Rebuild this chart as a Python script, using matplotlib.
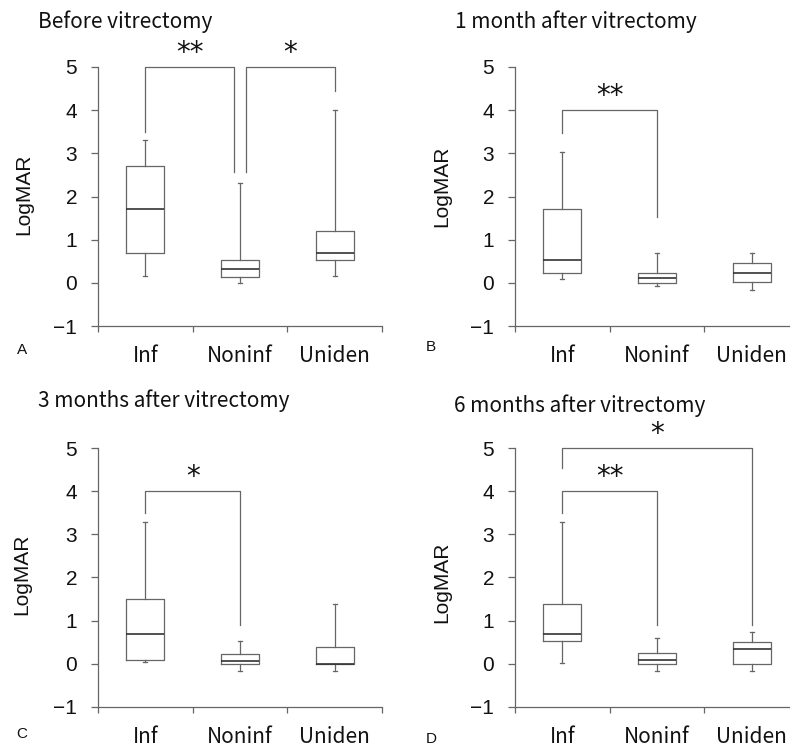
"""LogMAR box plots by group, before and after vitrectomy (4 panels)."""

import matplotlib
matplotlib.use('Agg')

import matplotlib.pyplot as plt

# ── Data ───────────────────────────────────────────────────────────────────────
categories = ['Inf', 'Noninf', 'Uniden']

# five-number summary per group: low whisker, Q1, median, Q3, high whisker
before_vit = [[0.16, 0.70, 1.70, 2.70, 3.30],
              [0.00, 0.14, 0.32, 0.53, 2.31],
              [0.16, 0.53, 0.70, 1.20, 4.01]]
month1_vit = [[0.10, 0.23, 0.54, 1.70, 3.02],
              [-0.07, 0.00, 0.11, 0.23, 0.70],
              [-0.17, 0.02, 0.23, 0.45, 0.70]]
month3_vit = [[0.05, 0.09, 0.70, 1.51, 3.29],
              [-0.17, 0.00, 0.07, 0.22, 0.53],
              [-0.17, 0.00, 0.00, 0.40, 1.39]]
month6_vit = [[0.01, 0.53, 0.70, 1.39, 3.29],
              [-0.17, 0.00, 0.08, 0.24, 0.59],
              [-0.17, 0.00, 0.35, 0.50, 0.74]]

# significance brackets: (group a, group b, bar level, leg end a, leg end b, label)
before_sig = [(0, 1, 5.0, 3.50, 2.57, '**'), (1, 2, 5.0, 2.57, 4.44, '*')]
month1_sig = [(0, 1, 4.0, 3.47, 1.53, '**')]
month3_sig = [(0, 1, 4.0, 3.50, 0.91, '*')]
month6_sig = [(0, 2, 5.0, 4.54, 0.91, '*'), (0, 1, 4.0, 3.50, 0.91, '**')]

titles = ['Before vitrectomy', '1 month after vitrectomy',
          '3 months after vitrectomy', '6 months after vitrectomy']
letters = ['A', 'B', 'C', 'D']

# ── Layout (figure pixels) ─────────────────────────────────────────────────────
W, H = 790, 752
LINE = '#666666'
TXT = '#111111'
JP = ['Noto Sans CJK JP', 'DejaVu Sans']
SANS = ['Liberation Sans', 'DejaVu Sans']

panels = [
    # data, sig, axes rect (px: left, top, width, height), title xy, ylabel xy, letter xy
    (before_vit, before_sig, (98, 67, 284, 259), (38, 22), (24, 194), (22, 350)),
    (month1_vit, month1_sig, (515, 67, 284, 259), (455, 22), (442, 186), (431, 347)),
    (month3_vit, month3_sig, (98, 448, 284, 259), (38, 401), (22, 574), (22, 734)),
    (month6_vit, month6_sig, (515, 448, 284, 259), (454, 406), (442, 582), (431, 739)),
]


def fx(px):
    return px / W


def fy(py):
    return 1 - py / H


fig = plt.figure(figsize=(W / 100, H / 100), dpi=100)

for k, (data, sig, rect, t_xy, yl_xy, l_xy) in enumerate(panels):
    left, top, w, h = rect
    ax = fig.add_axes([fx(left), fy(top + h), w / W, h / H])

    stats = [
        {'whislo': s[0], 'q1': s[1], 'med': s[2], 'q3': s[3], 'whishi': s[4],
         'label': c}
        for c, s in zip(categories, data)
    ]
    ax.bxp(stats, positions=[0, 1, 2], widths=0.4, showfliers=False,
           capwidths=0.04, manage_ticks=False,
           boxprops=dict(color=LINE, linewidth=0.9),
           whiskerprops=dict(color=LINE, linewidth=0.9),
           capprops=dict(color=LINE, linewidth=0.9),
           medianprops=dict(color='#333333', linewidth=1.2))

    ax.set_xlim(-0.5, 2.5)
    ax.set_ylim(-1, 5)
    for side in ('top', 'right'):
        ax.spines[side].set_visible(False)
    for side in ('left', 'bottom'):
        ax.spines[side].set_color(LINE)
        ax.spines[side].set_linewidth(0.9)

    ax.set_yticks(range(-1, 6))
    ax.set_yticklabels([str(v).replace('-', '\u2212') for v in range(-1, 6)],
                       family=SANS, fontsize=15, color=TXT)
    ax.tick_params(axis='y', length=5, width=0.9, color=LINE, pad=10)

    ax.set_xticks([0, 1, 2])
    ax.set_xticklabels(categories, family=JP, fontsize=15, color=TXT)
    ax.set_xticks([-0.5, 0.5, 1.5, 2.5], minor=True)
    ax.tick_params(axis='x', which='major', length=0, pad=14)
    ax.tick_params(axis='x', which='minor', length=4, width=0.9, color=LINE,
                   direction='out')

    # significance brackets; nudge legs apart where two brackets meet on one group
    ends = {}
    for a, b, *_ in sig:
        ends.setdefault(a, []).append('L')
        ends.setdefault(b, []).append('R')
    for a, b, lvl, la, lb, lab in sig:
        xa, xb = a, b
        if 'R' in ends.get(a, []) and 'L' in ends[a]:
            xa = a + 0.06
        if 'L' in ends.get(b, []) and 'R' in ends[b]:
            xb = b - 0.06
        ax.plot([xa, xa, xb, xb], [la, lvl, lvl, lb], color=LINE,
                linewidth=0.9, clip_on=False)
        ax.text((xa + xb) / 2, lvl + 0.32, lab, ha='center', va='center',
                fontsize=20, color=TXT, clip_on=False)

    fig.text(fx(t_xy[0]), fy(t_xy[1]), titles[k], ha='left', va='center',
             family=JP, fontsize=15, color=TXT)
    fig.text(fx(yl_xy[0]), fy(yl_xy[1]), 'LogMAR', ha='center', va='center',
             rotation=90, family=SANS, fontsize=15, color=TXT)
    fig.text(fx(l_xy[0]), fy(l_xy[1]), letters[k], ha='center', va='center',
             family=SANS, fontsize=11, color=TXT)

fig.savefig('out.png', dpi=100)
